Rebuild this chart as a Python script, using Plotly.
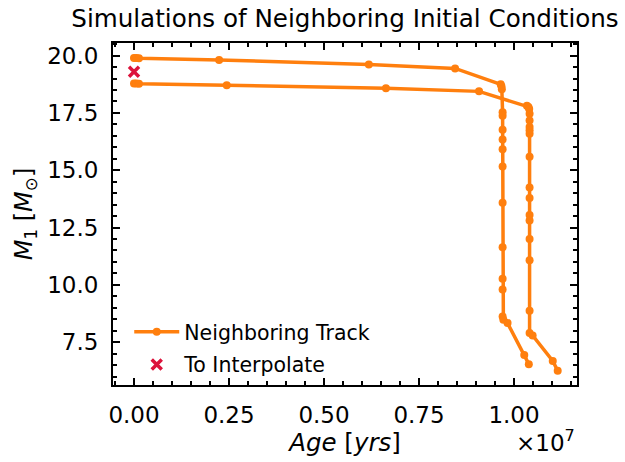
import plotly.graph_objects as go

# Neighboring evolutionary tracks: age [yr] and primary mass [Msun]
upper_age = [0.000e7, 0.006e7, 0.013e7, 0.224e7, 0.618e7, 0.845e7, 0.965e7, 0.967e7,
             0.968e7, 0.970e7, 0.970e7, 0.970e7, 0.970e7, 0.970e7, 0.970e7, 0.970e7,
             0.970e7, 0.970e7, 0.970e7, 0.970e7, 0.972e7, 0.983e7, 1.027e7, 1.039e7]
upper_mass = [19.90, 19.90, 19.89, 19.81, 19.61, 19.44, 18.75, 18.66,
              18.53, 17.53, 17.38, 16.77, 16.34, 15.92, 15.16, 13.58,
              11.64, 10.27, 9.80, 8.62, 8.48, 8.33, 6.94, 6.54]

lower_age = [0.000e7, 0.006e7, 0.013e7, 0.244e7, 0.663e7, 0.908e7, 1.034e7, 1.038e7,
             1.040e7, 1.041e7, 1.041e7, 1.041e7, 1.041e7, 1.041e7, 1.041e7, 1.041e7,
             1.041e7, 1.041e7, 1.041e7, 1.041e7, 1.041e7, 1.041e7, 1.041e7, 1.049e7,
             1.102e7, 1.115e7]
lower_mass = [18.78, 18.78, 18.77, 18.71, 18.58, 18.44, 17.81, 17.76,
              17.67, 17.46, 17.17, 16.88, 16.74, 16.59, 15.59, 14.25,
              13.79, 13.05, 12.81, 12.00, 11.07, 8.87, 7.90, 7.79,
              6.68, 6.25]

# Target point to interpolate
target_age = [0.0]
target_mass = [19.30]

# Tick labels
x_tickvals = [0.0, 0.25e7, 0.50e7, 0.75e7, 1.00e7]
x_ticktext = ["0.00", "0.25", "0.50", "0.75", "1.00"]
y_tickvals = [7.5, 10.0, 12.5, 15.0, 17.5, 20.0]
y_ticktext = ["7.5", "10.0", "12.5", "15.0", "17.5", "20.0"]

ORANGE = "#ff7f0e"
CRIMSON = "#dc143c"
FONT = "DejaVu Sans"

fig = go.Figure()

track_style = dict(mode="lines+markers",
                   line=dict(color=ORANGE, width=3.5),
                   marker=dict(color=ORANGE, size=8))

fig.add_trace(go.Scatter(x=upper_age, y=upper_mass, name="Neighboring Track",
                         legendgroup="a", showlegend=True, **track_style))
fig.add_trace(go.Scatter(x=lower_age, y=lower_mass, name="Neighboring Track",
                         legendgroup="a", showlegend=False, **track_style))
fig.add_trace(go.Scatter(x=target_age, y=target_mass, name="To Interpolate",
                         legendgroup="b", mode="markers",
                         marker=dict(symbol="x-thin", size=10, color=CRIMSON,
                                     line=dict(color=CRIMSON, width=3.5))))

axis_common = dict(
    showline=True, linecolor="black", linewidth=2, mirror="allticks",
    ticks="inside", ticklen=7, tickwidth=1.5, tickcolor="black",
    showgrid=False, zeroline=False,
    tickfont=dict(family=FONT, size=23, color="black"),
)

fig.update_xaxes(
    range=[-0.0553e7, 1.1658e7], tickmode="array",
    tickvals=x_tickvals, ticktext=x_ticktext,
    minor=dict(tickmode="linear", tick0=0, dtick=0.05e7, ticks="inside",
               ticklen=4, tickwidth=1.5, tickcolor="black"),
    title=dict(text="<i>Age</i> [<i>yrs</i>]",
               font=dict(family=FONT, size=24.5, color="black"), standoff=5),
    ticklabelstandoff=8,
    **axis_common,
)
fig.update_yaxes(
    range=[5.63, 20.55], tickmode="array",
    tickvals=y_tickvals, ticktext=y_ticktext,
    minor=dict(tickmode="linear", tick0=0, dtick=0.5, ticks="inside",
               ticklen=4, tickwidth=1.5, tickcolor="black"),
    title=dict(text="<i>M</i><sub>1</sub> [<i>M</i><sub>⊙</sub>]",
               font=dict(family=FONT, size=24, color="black"), standoff=8),
    ticklabelstandoff=8,
    **axis_common,
)

fig.add_annotation(text="×10<sup>7</sup>", xref="paper", yref="paper",
                   x=1.0, y=-0.115, xanchor="right", yanchor="top",
                   showarrow=False, font=dict(family=FONT, size=23, color="black"))

fig.update_layout(
    width=625, height=462,
    margin=dict(l=113, r=48, t=43, b=73),
    paper_bgcolor="white", plot_bgcolor="white",
    title=dict(text="Simulations of Neighboring Initial Conditions",
               font=dict(family=FONT, size=24.6, color="black"),
               x=0.5, xref="paper", xanchor="center",
               y=1 - 18 / 462, yref="container", yanchor="middle"),
    legend=dict(x=0.035, y=0.0, xanchor="left", yanchor="bottom",
                bgcolor="rgba(0,0,0,0)", tracegroupgap=3, itemwidth=45,
                font=dict(family=FONT, size=20.5, color="black")),
    font=dict(family=FONT),
)

fig.write_html("out.html")
